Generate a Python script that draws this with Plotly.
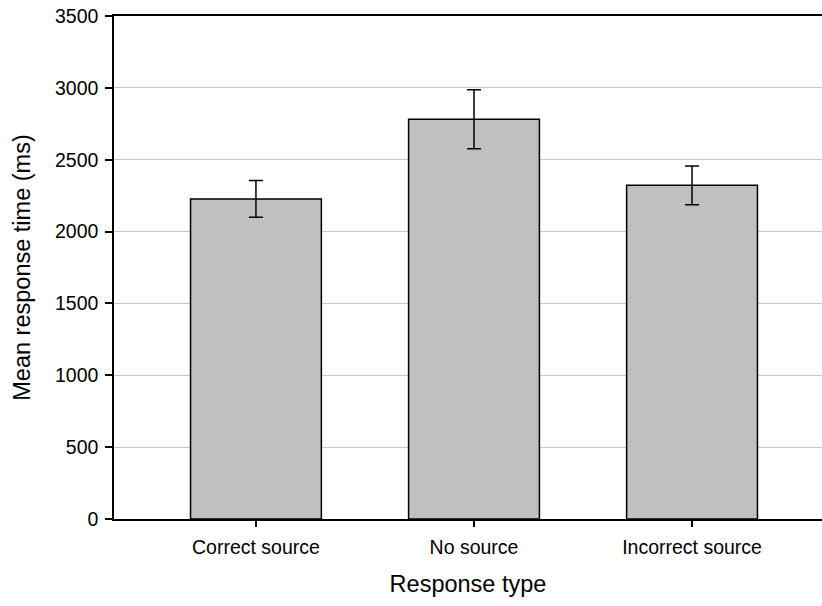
import plotly.graph_objects as go

categories = ["Correct source", "No source", "Incorrect source"]
mean_rt = [2227, 2781, 2322]
err_rt = [128, 205, 135]
y_ticks = [0, 500, 1000, 1500, 2000, 2500, 3000, 3500]

fig = go.Figure()
fig.add_trace(go.Bar(
    x=list(range(len(categories))),
    y=mean_rt,
    width=0.6,
    marker=dict(color="#C0C0C0", line=dict(color="black", width=1.5)),
    error_y=dict(type="data", array=err_rt, visible=True, color="black",
                 thickness=1.5, width=7),
))

font = "Liberation Sans, Arial, sans-serif"
fig.update_layout(
    width=822, height=606,
    margin=dict(l=114, r=0, t=16, b=87),
    paper_bgcolor="white", plot_bgcolor="white",
    showlegend=False,
    font=dict(family=font, color="black", size=19.5),
    xaxis=dict(
        range=[-0.651, 2.596],
        automargin=False,
        tickmode="array", tickvals=list(range(len(categories))), ticktext=categories,
        ticks="outside", ticklen=6, tickwidth=1.5, tickcolor="black",
        showline=True, linecolor="black", linewidth=1.5, mirror=True,
        showgrid=False, zeroline=False,
        tickfont=dict(size=19.5),
        ticklabelstandoff=4,
        title=dict(text="Response type", font=dict(size=23.5), standoff=18),
    ),
    yaxis=dict(
        range=[0, 3500],
        automargin=False,
        tickmode="array", tickvals=y_ticks,
        ticks="outside", ticklen=7, tickwidth=1.5, tickcolor="black",
        showline=True, linecolor="black", linewidth=1.5,
        showgrid=True, gridcolor="#C8C8C8", gridwidth=1,
        zeroline=False,
        tickfont=dict(size=19.5),
        ticklabelstandoff=3,
        title=dict(text="Mean response time (ms)", font=dict(size=23.5), standoff=18),
    ),
)

fig.write_html(
    "out.html",
    config={"displayModeBar": False},
    post_script="document.body.style.margin='0';document.body.style.overflow='hidden';",
)
